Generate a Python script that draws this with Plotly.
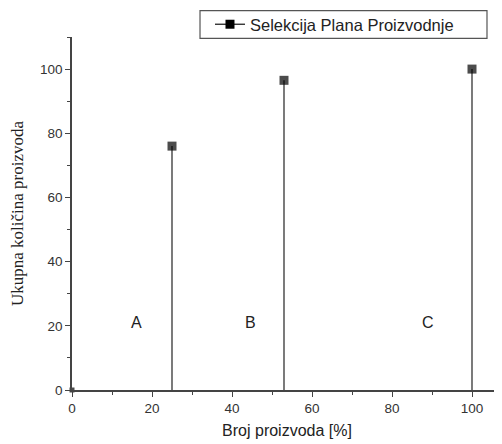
import plotly.graph_objects as go

# Data
x_pct = [0, 25, 53, 100]
y_total = [0, 76, 96.5, 100]
series_name = "Selekcija Plana Proizvodnje"
zone_labels = ["A", "B", "C"]
zone_x = [16, 44.5, 89]
zone_y = [21, 21, 21]

# drop lines from each point down to the x axis
drop_x, drop_y = [], []
for xv, yv in zip(x_pct, y_total):
    drop_x += [xv, xv, None]
    drop_y += [yv, 0, None]

fig = go.Figure()
fig.add_trace(go.Scatter(x=drop_x, y=drop_y, mode="lines",
                         line=dict(color="#222", width=1.2),
                         showlegend=False, hoverinfo="skip"))
fig.add_trace(go.Scatter(x=x_pct, y=y_total, mode="markers",
                         marker=dict(symbol="square", size=[5, 9, 9, 9], color="#000",
                                     line=dict(width=0)),
                         showlegend=False, cliponaxis=False))
fig.add_trace(go.Scatter(x=[None], y=[None], mode="lines+markers", name=series_name,
                         line=dict(color="#111", width=1.2),
                         marker=dict(symbol="square", size=9, color="#000", line=dict(width=0))))

for lab, xv, yv in zip(zone_labels, zone_x, zone_y):
    fig.add_annotation(x=xv, y=yv, text=lab, showarrow=False,
                       font=dict(family="Liberation Sans, Arial", size=16, color="#222"))

# legend frame (wider than plotly's auto-sized legend box)
fig.add_shape(type="rect", xref="paper", yref="paper",
              x0=0.2977, x1=0.9651, y0=0.9963, y1=1.0745,
              line=dict(color="#555", width=1.2), fillcolor="rgba(0,0,0,0)", layer="above")

axis_common = dict(showline=True, linecolor="#444", linewidth=1.5, ticks="outside",
                   ticklen=5, tickwidth=1.2, tickcolor="#444", showgrid=False, zeroline=False,
                   automargin=False,
                   tickfont=dict(family="Liberation Sans, Arial", size=13.5, color="#333"),
                   minor=dict(ticks="outside", ticklen=3, tickcolor="#444", dtick=10))

fig.update_xaxes(range=[0, 107.5], dtick=20, tick0=0,
                 title=dict(text="Broj proizvoda [%]",
                            font=dict(family="Liberation Sans, Arial", size=16, color="#222"),
                            standoff=10),
                 **axis_common)
fig.update_yaxes(range=[0, 110], dtick=20, tick0=0,
                 title=dict(text="Ukupna količina proizvoda",
                            font=dict(family="Liberation Serif, Times New Roman, serif", size=17, color="#222"),
                            standoff=20),
                 **axis_common)

# the page body adds an 8px offset, so the figure is 494x436
fig.update_layout(width=494, height=436, plot_bgcolor="white", paper_bgcolor="white",
                  margin=dict(l=64, r=0, t=29, b=54, autoexpand=False),
                  legend=dict(x=0.3209, y=1.0354, xanchor="left", yanchor="middle",
                              borderwidth=0, bgcolor="rgba(0,0,0,0)",
                              font=dict(family="Liberation Sans, Arial", size=16.5, color="#222"),
                              tracegroupgap=0))
fig.write_html("out.html")
